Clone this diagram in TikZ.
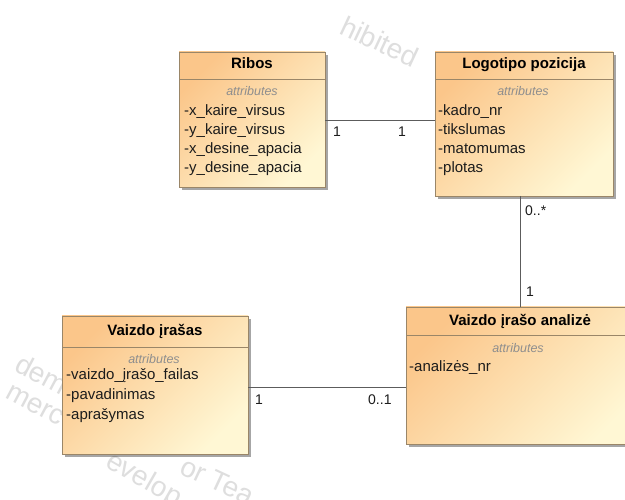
\documentclass[tikz,border=0pt]{standalone}
\usepackage{fontspec}
\setmainfont{Liberation Sans}
\usetikzlibrary{shadows,calc}

\definecolor{boxtop}{HTML}{FBC68A}
\definecolor{boxbot}{HTML}{FFF7D4}
\definecolor{boxline}{HTML}{9A8668}
\definecolor{wire}{HTML}{5C5C5C}
\definecolor{attrgray}{HTML}{8E8E8E}
\definecolor{txt}{HTML}{1C1C1C}
\definecolor{markgray}{HTML}{DEDEDE}

\begin{document}
\begin{tikzpicture}[x=1pt,y=-1pt,
  classbox/.style={draw=boxline, line width=0.7pt, top color=boxtop,
    bottom color=boxbot, shading angle=45, inner sep=0pt, outer sep=0pt,
    anchor=north west,
    drop shadow={shadow xshift=3pt, shadow yshift=-3pt, fill=black, opacity=0.35}},
  title/.style={font=\fontsize{15}{18}\selectfont\bfseries, anchor=base, inner sep=0pt},
  stereo/.style={font=\fontsize{12.5}{15}\selectfont\itshape, text=attrgray,
    anchor=base, inner sep=0pt},
  attr/.style={font=\fontsize{15}{18}\selectfont, anchor=base west, inner sep=0pt, text=txt},
  mult/.style={font=\fontsize{14}{17}\selectfont, anchor=base west, inner sep=0pt, text=txt},
  assoc/.style={draw=wire, line width=0.8pt},
  wmark/.style={font=\fontsize{28}{34}\selectfont, text=markgray, anchor=base west, inner sep=0pt},
  sep/.style={draw=boxline, line width=0.7pt},
]
\path[use as bounding box] (0,0) rectangle (625,500);
\clip (0,0) rectangle (625,500);
\fill[white] (0,0) rectangle (625,500);

% faint licence watermark behind the classes
\node[wmark, rotate=-25] (wmA) at (338,33) {hibited};
\node[wmark, rotate=-28] (wmB) at (13,370) {demi};
\node[wmark, rotate=-28] (wmC) at (4,397) {merc};
\node[wmark, rotate=-30] (wmD) at (104,466) {evelop};
\node[wmark, rotate=-25] (wmE) at (178,473) {or Tea};

% class boxes
\node[classbox, minimum width=146pt, minimum height=135pt] (ribos) at (179,52) {};
\node[classbox, minimum width=178pt, minimum height=144pt] (logo) at (435,52) {};
\node[classbox, minimum width=186pt, minimum height=138pt] (vaizdo) at (62,316) {};
\node[classbox, minimum width=240pt, minimum height=137pt] (ana) at (406,307) {};

% header separators
\draw[sep] (ribos.north west |- 0,79) -- (ribos.north east |- 0,79);
\draw[sep] (logo.north west |- 0,79) -- (logo.north east |- 0,79);
\draw[sep] (vaizdo.north west |- 0,347) -- (vaizdo.north east |- 0,347);
\draw[sep] (ana.north west |- 0,335) -- (ana.north east |- 0,335);

% Ribos
\node[title] (ribosT) at (252,69) {Ribos};
\node[stereo] (ribosS) at (252,96) {attributes};
\node[attr] (ribos1) at (184,116) {-x\_kaire\_virsus};
\node[attr] (ribos2) at (184,135) {-y\_kaire\_virsus};
\node[attr] (ribos3) at (184,154) {-x\_desine\_apacia};
\node[attr] (ribos4) at (184,173) {-y\_desine\_apacia};

% Logotipo pozicija
\node[title] (logoT) at (524,69) {Logotipo pozicija};
\node[stereo] (logoS) at (523,96) {attributes};
\node[attr] (logo1) at (438,116) {-kadro\_nr};
\node[attr] (logo2) at (438,135) {-tikslumas};
\node[attr] (logo3) at (438,154) {-matomumas};
\node[attr] (logo4) at (438,173) {-plotas};

% Vaizdo įrašas
\node[title] (vaizdoT) at (155,336) {Vaizdo įrašas};
\node[stereo] (vaizdoS) at (154,363) {attributes};
\node[attr] (vaizdo1) at (66,380) {-vaizdo\_įrašo\_failas};
\node[attr] (vaizdo2) at (66,399.5) {-pavadinimas};
\node[attr] (vaizdo3) at (66,419) {-aprašymas};

% Vaizdo įrašo analizė
\node[title] (anaT) at (520,326) {Vaizdo įrašo analizė};
\node[stereo] (anaS) at (518,353) {attributes};
\node[attr] (ana1) at (409,371) {-analizės\_nr};

% associations
\draw[assoc] (ribos.east |- 0,120) -- (logo.west |- 0,120);
\draw[assoc] (logo.south -| 520,0) -- (ana.north -| 520,0);
\draw[assoc] (vaizdo.east |- 0,387) -- (ana.west |- 0,387);

% multiplicities
\node[mult] (m1) at (333,137) {1};
\node[mult] (m2) at (398,137) {1};
\node[mult] (m3) at (525,216) {0..*};
\node[mult] (m4) at (526,297) {1};
\node[mult] (m5) at (255,405) {1};
\node[mult] (m6) at (368,405) {0..1};
\end{tikzpicture}
\end{document}
